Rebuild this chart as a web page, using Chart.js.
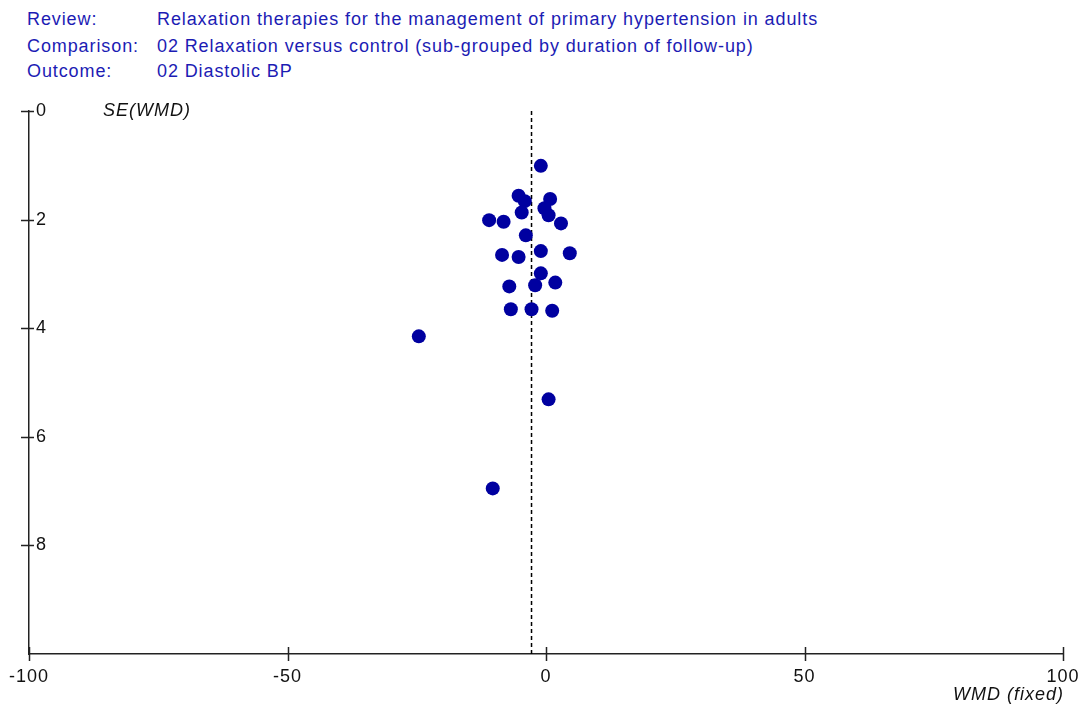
<!DOCTYPE html>
<html>
<head>
<meta charset="utf-8">
<script src="https://cdn.jsdelivr.net/npm/chart.js@4.4.0/dist/chart.umd.min.js"></script>
<style>
  body { margin: 0; background: #fff; }
  #wrap { position: relative; width: 1085px; height: 707px; }
  .hdr { position: absolute; font: 18px/20px "Liberation Sans", Arial, sans-serif; letter-spacing: 0.9px; color: #1c1cb4; white-space: nowrap; }
  canvas { position: absolute; left: 0; top: 0; }
</style>
</head>
<body>
<div id="wrap">
  <div class="hdr" style="left:27px;top:9px">Review:</div>
  <div class="hdr" style="left:157px;top:9px">Relaxation therapies for the management of primary hypertension in adults</div>
  <div class="hdr" style="left:27px;top:36px">Comparison:</div>
  <div class="hdr" style="left:157px;top:36px">02 Relaxation versus control (sub-grouped by duration of follow-up)</div>
  <div class="hdr" style="left:27px;top:61px">Outcome:</div>
  <div class="hdr" style="left:157px;top:61px">02 Diastolic BP</div>
  <canvas id="funnel" width="1085" height="707"></canvas>
</div>
<script>
// study estimates
let wmd = [-1.0, -5.3, -4.1, 0.8, -0.3, -4.7, 0.5, -11.0, -8.2, 2.9, -3.9, -8.5, -5.3, -1.0, 4.6,
           -1.0, -7.1, -2.1, 1.8, -6.8, -2.8, 1.2, -24.6, 0.5, -10.3];
let se = [1.01, 1.56, 1.66, 1.62, 1.79, 1.87, 1.92, 2.01, 2.04, 2.07, 2.29, 2.65, 2.69, 2.58, 2.62,
          2.99, 3.23, 3.21, 3.16, 3.65, 3.65, 3.68, 4.15, 5.31, 6.95];
let pooledWMD = -2.8;
let xTicks = [-100, -50, 0, 50, 100];
let yTicks = [0, 2, 4, 6, 8];

let ctx = document.getElementById("funnel");
let labelFont = { family: "'Liberation Sans', Arial, sans-serif", size: 18 };

// tick marks crossing the axes + axis titles
let axisDecor = {
    id: "axisDecor",
    beforeDraw(chart) {
        chart.ctx.letterSpacing = "1px";
    },
    afterDraw(chart) {
        let c = chart.ctx;
        let x = chart.scales.x;
        let y = chart.scales.y;
        let a = chart.chartArea;
        c.save();
        c.strokeStyle = "#222";
        c.lineWidth = 1.5;
        c.beginPath();
        yTicks.forEach(v => {
            let py = Math.round(y.getPixelForValue(v)) + 0.5;
            c.moveTo(a.left - 8, py);
            c.lineTo(a.left + 5, py);
        });
        xTicks.forEach(v => {
            let px = Math.round(x.getPixelForValue(v)) + 0.5;
            c.moveTo(px, a.bottom - 7);
            c.lineTo(px, a.bottom + 7);
        });
        c.stroke();
        c.fillStyle = "#111";
        c.letterSpacing = "1px";
        c.font = "italic 18px 'Liberation Sans', Arial, sans-serif";
        c.textBaseline = "middle";
        c.textAlign = "left";
        c.fillText("SE(WMD)", 103, a.top);
        c.textAlign = "right";
        c.fillText("WMD (fixed)", a.right + 1, 695);
        c.restore();
    }
};

new Chart(ctx, {
    type: "scatter",
    data: {
        datasets: [{
            label: "Studies",
            data: wmd.map((v, i) => ({x: v, y: se[i]})),
            backgroundColor: "#0000a0",
            borderWidth: 0,
            pointRadius: 7,
            pointHoverRadius: 7
        }, {
            type: "line",
            label: "Pooled",
            data: [{x: pooledWMD, y: 0}, {x: pooledWMD, y: 10}],
            borderColor: "#000",
            borderWidth: 1.5,
            borderDash: [4, 3],
            pointRadius: 0,
            fill: false
        }]
    },
    plugins: [axisDecor],
    options: {
        responsive: false,
        animation: false,
        layout: { padding: { left: 29, right: 22, top: 111, bottom: 0 } },
        plugins: { legend: { display: false }, tooltip: { enabled: false } },
        scales: {
            x: {
                type: "linear",
                min: -100,
                max: 100,
                afterBuildTicks: s => { s.ticks = xTicks.map(v => ({value: v})); },
                afterFit: s => { s.height = 53; },
                grid: { display: false },
                border: { display: true, color: "#222", width: 1.5 },
                ticks: { padding: 4, color: "#111", font: labelFont }
            },
            y: {
                type: "linear",
                reverse: true,
                min: 0,
                max: 10,
                afterBuildTicks: s => { s.ticks = yTicks.map(v => ({value: v})); },
                afterFit: s => { s.width = 0; },
                grid: { display: false },
                border: { display: true, color: "#222", width: 1.5 },
                ticks: { mirror: true, padding: 7, color: "#111", font: labelFont }
            }
        }
    }
});
</script>
</body>
</html>
